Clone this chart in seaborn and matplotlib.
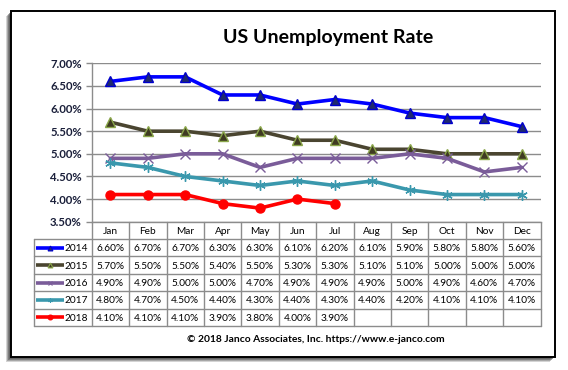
import numpy as np
import pandas as pd
import matplotlib
matplotlib.use('Agg')
import matplotlib.pyplot as plt
import seaborn as sns
from matplotlib.patches import Rectangle

months = ['Jan', 'Feb', 'Mar', 'Apr', 'May', 'Jun',
          'Jul', 'Aug', 'Sep', 'Oct', 'Nov', 'Dec']
years = ['2014', '2015', '2016', '2017', '2018']
rate_2014 = [6.6, 6.7, 6.7, 6.3, 6.3, 6.1, 6.2, 6.1, 5.9, 5.8, 5.8, 5.6]
rate_2015 = [5.7, 5.5, 5.5, 5.4, 5.5, 5.3, 5.3, 5.1, 5.1, 5.0, 5.0, 5.0]
rate_2016 = [4.9, 4.9, 5.0, 5.0, 4.7, 4.9, 4.9, 4.9, 5.0, 4.9, 4.6, 4.7]
rate_2017 = [4.8, 4.7, 4.5, 4.4, 4.3, 4.4, 4.3, 4.4, 4.2, 4.1, 4.1, 4.1]
rate_2018 = [4.1, 4.1, 4.1, 3.9, 3.8, 4.0, 3.9]
y_ticks = [3.5, 4.0, 4.5, 5.0, 5.5, 6.0, 6.5, 7.0]

rates = dict(zip(years, [rate_2014, rate_2015, rate_2016, rate_2017, rate_2018]))

# series styles (line colour, marker, face, edge)
styles = {
    '2014': dict(color='#0000ff', marker='^', mfc='#1f2a6e', mec='#0000cc', ms=6.5),
    '2015': dict(color='#4a4530', marker='^', mfc='#3f3b22', mec='#8aa64a', ms=6.5),
    '2016': dict(color='#7a5c99', marker='x', mfc='#7a5c99', mec='#7a5c99', ms=6.5),
    '2017': dict(color='#3a98ad', marker=(6, 2, 0), mfc='#3a98ad', mec='#3a98ad', ms=7.5),
    '2018': dict(color='#ff0000', marker='o', mfc='#ff0000', mec='#ff0000', ms=6.5),
}

df = pd.concat([
    pd.DataFrame({'Year': y, 'pos': np.arange(len(v)), 'Rate': v})
    for y, v in rates.items()
], ignore_index=True)

sns.set_style('white')
plt.rcParams['font.family'] = ['Lato', 'DejaVu Sans']

W, H = 568, 370
fig = plt.figure(figsize=(W / 100, H / 100), dpi=100)
fig.patch.set_facecolor('white')


def fx(px):
    return px / W


def fy(px):
    return 1 - px / H


# frame with a soft shadow on left/bottom
for off, a in [(5, 0.25), (4, 0.35), (3, 0.5), (2, 0.6)]:
    fig.patches.append(Rectangle((fx(11 - off), fy(357 + off)), fx(544), 346 / H,
                                 transform=fig.transFigure, facecolor='#555555',
                                 edgecolor='none', alpha=a, zorder=-3))
fig.patches.append(Rectangle((fx(11), fy(357)), fx(544), 346 / H,
                             transform=fig.transFigure, facecolor='white',
                             edgecolor='black', lw=1.4, zorder=-2))

grid_c = '#8c8c8c'
left_px, right_px = 91.7, 540.5
top_px, bot_px = 63.3, 221.7
tab_left_px, tab_bot_px = 33.7, 326
col_w = (right_px - left_px) / 12
leg_w = (left_px - tab_left_px) / col_w

# ---- line chart ----
ax = fig.add_axes([fx(left_px), fy(bot_px), fx(right_px - left_px),
                   (bot_px - top_px) / H])
ax.set_facecolor('none')
for yr in years:
    st = styles[yr]
    sns.lineplot(data=df[df['Year'] == yr], x='pos', y='Rate', ax=ax,
                 color=st['color'], linewidth=2.6, marker=st['marker'],
                 markersize=st['ms'], markerfacecolor=st['mfc'],
                 markeredgecolor=st['mec'], markeredgewidth=1.0, legend=False,
                 zorder=3)
ax.set_xlim(-0.5, 11.5)
ax.set_ylim(3.5, 7.0)
ax.set_yticks(y_ticks)
ax.set_yticklabels([f'{t:.2f}%' for t in y_ticks], fontsize=8.2,
                   fontweight='bold', color='#1a1f3a')
ax.set_xticks([])
ax.set_xlabel('')
ax.set_ylabel('')
ax.grid(axis='y', color=grid_c, lw=1)
for s in ['top', 'right']:
    ax.spines[s].set_visible(False)
for s in ['left', 'bottom']:
    ax.spines[s].set_color(grid_c)
    ax.spines[s].set_linewidth(1)
ax.tick_params(axis='y', length=4, color=grid_c, width=1, pad=3, left=True)

# ---- data table ----
tax = fig.add_axes([fx(tab_left_px), fy(tab_bot_px), fx(right_px - tab_left_px),
                    (tab_bot_px - bot_px) / H])
tax.set_xlim(-0.5 - leg_w, 11.5)
tax.set_ylim(6, 0)
tax.axis('off')
x0 = -0.5 - leg_w
for i in range(13):
    tax.plot([i - 0.5, i - 0.5], [0, 6], color=grid_c, lw=1, clip_on=False)
tax.plot([x0, x0], [1, 6], color=grid_c, lw=1, clip_on=False)
for r in range(1, 7):
    tax.plot([x0, 11.5], [r, r], color=grid_c, lw=1, clip_on=False)
fs = 7.3
for i, m in enumerate(months):
    tax.text(i, 0.55, m, ha='center', va='center', fontsize=fs, color='black')
for r, yr in enumerate(years, start=1):
    st = styles[yr]
    tax.plot([x0 + 0.07, x0 + 0.8], [r + 0.5, r + 0.5], color=st['color'], lw=2.6,
             solid_capstyle='butt')
    tax.plot([x0 + 0.435], [r + 0.5], marker=st['marker'], ms=3.5,
             mfc=st['mfc'], mec=st['mec'], mew=0.8, color=st['color'])
    tax.text(x0 + 0.83, r + 0.55, yr, ha='left', va='center', fontsize=fs,
             color='black')
    for i, v in enumerate(rates[yr]):
        tax.text(i, r + 0.55, f'{v:.2f}%', ha='center', va='center',
                 fontsize=fs, color='black')

# ---- titles ----
fig.text(fx(328), fy(37), 'US Unemployment Rate', ha='center', va='center',
         fontsize=14, fontweight='bold', color='black')
fig.text(fx(316), fy(340), '\u00a9 2018 Janco Associates, Inc. https://www.e-janco.com',
         ha='center', va='center', fontsize=7.4, fontweight='bold', color='black')

fig.savefig('out.png', dpi=100, facecolor='white')
